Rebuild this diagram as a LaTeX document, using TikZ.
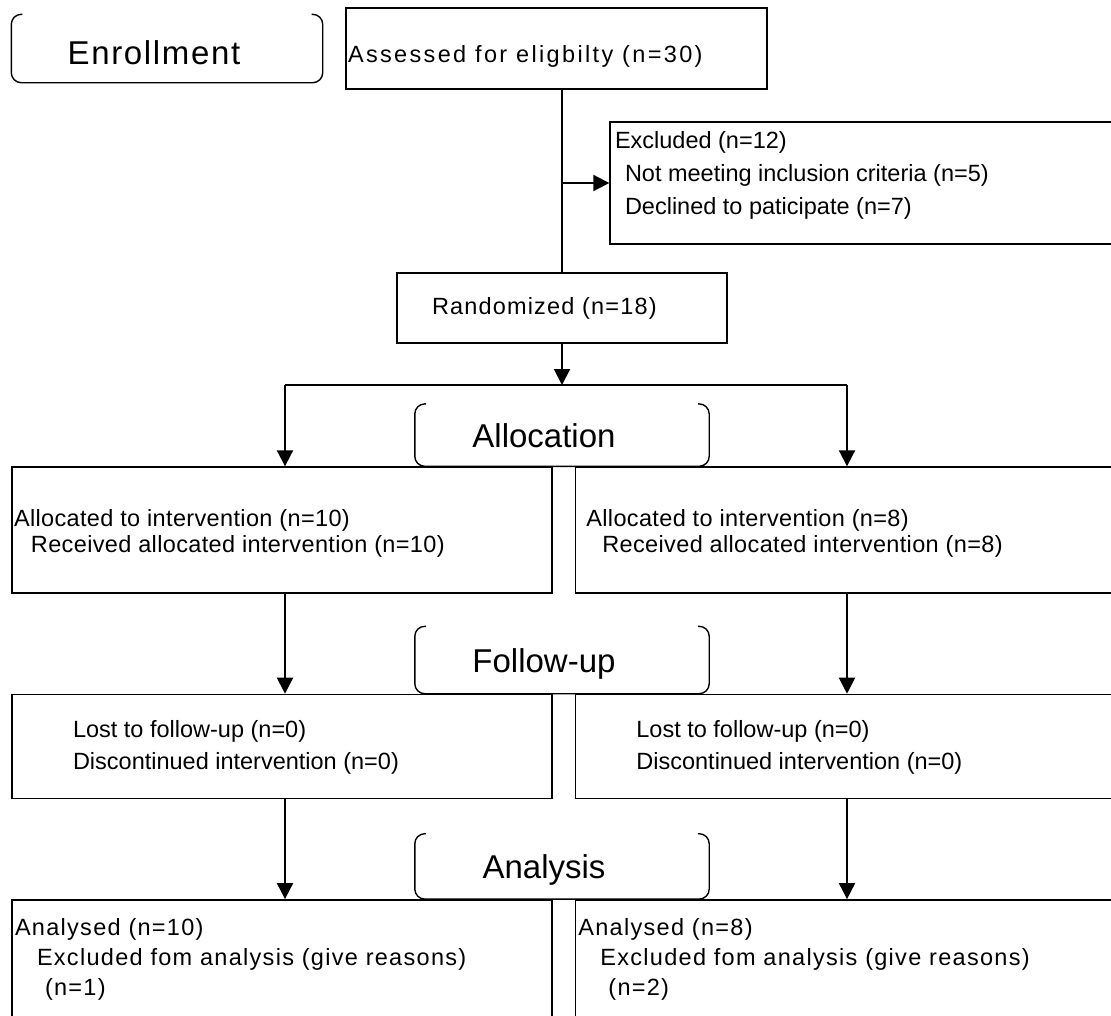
\documentclass[tikz,border=0pt]{standalone}
\usepackage{fontspec}
\setmainfont{Liberation Sans}
\usetikzlibrary{positioning,arrows.meta}

\begin{document}
\begin{tikzpicture}
[x=1pt,y=-1pt,>={Triangle[length=16pt,width=16pt]},line width=1.4pt,node distance=100pt]

  \tikzstyle{box}=[draw,rectangle,inner sep=0pt]
  \tikzstyle{stage}=[inner sep=0pt,minimum width=293pt]
  \tikzstyle{txt}=[inner sep=0pt,align=left,anchor=base west,font=\fontsize{23.5}{33}\selectfont]
  \tikzstyle{head}=[inner sep=0pt,anchor=base,font=\fontsize{33}{38}\selectfont]
  \tikzstyle{flow}=[->,line width=2pt]

  \useasboundingbox (0,0) rectangle (1111,1015);
  \clip (0,0) rectangle (1111,1015);

  % boxes
  \node[box,minimum width=421pt,minimum height=81pt]  (assess) at (556.5,48.5) {};
  \node[box,minimum width=520pt,minimum height=122pt] (excl)   at (870,183)  {};
  \node[box,minimum width=330pt,minimum height=70pt]  (rand)   at (562,308)  {};
  \node[box,minimum width=540pt,minimum height=126pt] (allocL) at (282,530)  {};
  \node[box,minimum width=556pt,minimum height=126pt] (allocR) [right=22pt of allocL] {};
  \node[box,minimum width=540pt,minimum height=104pt] (followL) [below=of allocL] {};
  \node[box,minimum width=556pt,minimum height=104pt] (followR) [below=of allocR] {};
  \node[box,minimum width=540pt,minimum height=150pt,anchor=north] (analL) at ([yshift=-100pt]followL.south) {};
  \node[box,minimum width=556pt,minimum height=150pt,anchor=north] (analR) at ([yshift=-100pt]followR.south) {};

  % stage labels
  \node[stage,minimum width=310pt,minimum height=67pt] (enrol) at (167,48.5) {};
  \node[stage,minimum height=61pt,anchor=south] (alloc)  at (rand.south |- allocL.north) {};
  \node[stage,minimum height=66pt,anchor=south] (follow) at (rand.south |- followL.north) {};
  \node[stage,minimum height=64pt,anchor=south] (anal)   at (rand.south |- analL.north) {};
  \foreach \n in {enrol,alloc,follow,anal}
    \draw[rounded corners=10pt] ([xshift=11pt]\n.north west) -- (\n.north west) -- (\n.south west)
      -- (\n.south east) -- (\n.north east) -- ([xshift=-11pt]\n.north east);

  \node[head,font=\fontsize{33}{38}\selectfont\addfontfeature{LetterSpace=5}] (enroltxt)
    at ([xshift=-13pt,yshift=-16pt]enrol.center) {Enrollment};
  \node[head] (alloctxt)  at ([xshift=-18pt,yshift=-12pt]alloc.center)  {Allocation};
  \node[head] (followtxt) at ([xshift=-18pt,yshift=-12pt]follow.center) {Follow-up};
  \node[head] (analtxt)   at ([xshift=-18pt,yshift=-12pt]anal.center)   {Analysis};

  % box texts (base = last line)
  \node[txt] (assesstxt) at ([xshift=2pt,yshift=-55pt]assess.north west)
    {\addfontfeature{LetterSpace=10}Assessed for eligbilty (n=30)};
  \node[txt] (excltxt) at ([xshift=5pt,yshift=-93pt]excl.north west)
    {Excluded (n=12)\\\hspace*{10pt}Not meeting inclusion criteria (n=5)\\\hspace*{10pt}Declined to paticipate (n=7)};
  \node[txt] (randtxt) at ([xshift=35pt,yshift=-42pt]rand.north west)
    {\addfontfeature{LetterSpace=5}Randomized (n=18)};
  \node[txt,font=\fontsize{23.5}{26}\selectfont\addfontfeature{LetterSpace=1.5}] (allocLtxt) at ([xshift=2pt,yshift=-86pt]allocL.north west)
    {Allocated to intervention (n=10)\\\hspace*{17pt}Received allocated intervention (n=10)};
  \node[txt,font=\fontsize{23.5}{26}\selectfont\addfontfeature{LetterSpace=1.5}] (allocRtxt) at ([xshift=11pt,yshift=-86pt]allocR.north west)
    {Allocated to intervention (n=8)\\\hspace*{16pt}Received allocated intervention (n=8)};
  \node[txt,font=\fontsize{23.5}{32}\selectfont] (followLtxt) at ([xshift=61pt,yshift=-76pt]followL.north west)
    {Lost to follow-up (n=0)\\Discontinued intervention (n=0)};
  \node[txt,font=\fontsize{23.5}{32}\selectfont] (followRtxt) at ([xshift=61pt,yshift=-76pt]followR.north west)
    {Lost to follow-up (n=0)\\Discontinued intervention (n=0)};
  \node[txt,font=\fontsize{23.5}{30}\selectfont\addfontfeature{LetterSpace=5.5}] (analLtxt) at ([xshift=3pt,yshift=-96pt]analL.north west)
    {Analysed (n=10)\\\hspace*{22pt}Excluded fom analysis (give reasons)\\\hspace*{30pt}(n=1)};
  \node[txt,font=\fontsize{23.5}{30}\selectfont\addfontfeature{LetterSpace=5.5}] (analRtxt) at ([xshift=3pt,yshift=-96pt]analR.north west)
    {Analysed (n=8)\\\hspace*{22pt}Excluded fom analysis (give reasons)\\\hspace*{30pt}(n=2)};

  % connectors
  \coordinate (brL) at (285,385);
  \coordinate (brR) at (847,385);
  \draw[line width=2pt] (rand.north |- assess.south) -- (rand.north);
  \draw[flow] (rand.north |- excl.west) -- (excl.west);
  \draw[flow] (rand.south) -- (rand.south |- brL);
  \draw[line width=2pt] (brL) -- (brR);
  \foreach \s in {L,R} {
    \draw[flow] (br\s) -- (br\s |- alloc\s.north);
    \draw[flow] (br\s |- alloc\s.south) -- (br\s |- follow\s.north);
    \draw[flow] (br\s |- follow\s.south) -- (br\s |- anal\s.north);
  }
\end{tikzpicture}
\end{document}
